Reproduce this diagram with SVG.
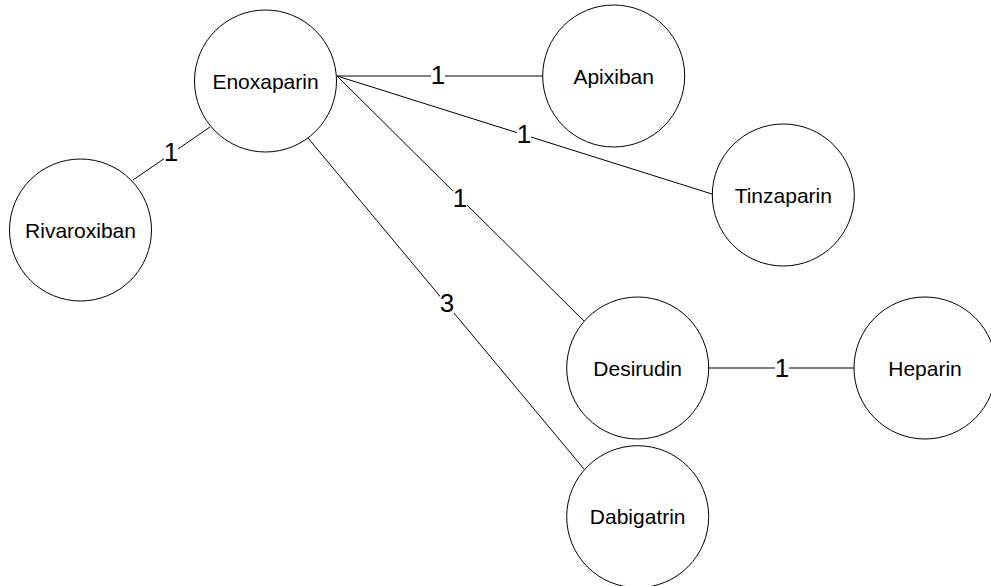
<svg xmlns="http://www.w3.org/2000/svg" width="991" height="586" viewBox="0 0 991 586">
<style>
.node circle{fill:#fff;stroke:#000;stroke-width:1}
.node text{font-family:"Liberation Sans",Arial,sans-serif;font-size:21px;fill:#000;text-anchor:middle}
.edges line{stroke:#000;stroke-width:1}
.lbl rect{fill:#fff}
.lbl text{font-family:"Liberation Sans",Arial,sans-serif;font-size:26px;fill:#000;text-anchor:middle}
</style>
<rect width="991" height="586" fill="#fff"/>
<g id="connectors" class="edges">
<line x1="210" y1="127" x2="133" y2="180"/>
<line x1="337" y1="76" x2="543" y2="76"/>
<line x1="337" y1="76" x2="712" y2="194"/>
<line x1="337" y1="76" x2="584" y2="321"/>
<line x1="308" y1="138" x2="584" y2="469"/>
<line x1="709" y1="368" x2="854" y2="368"/>
<g class="lbl">
<rect x="164" y="141" width="14" height="22"/><text x="171" y="161">1</text>
<rect x="431" y="64" width="14" height="22"/><text x="438" y="84">1</text>
<rect x="517" y="123" width="14" height="22"/><text x="524" y="142.5">1</text>
<rect x="453" y="187" width="14" height="22"/><text x="460" y="207">1</text>
<rect x="440" y="292" width="14" height="22"/><text x="447" y="312">3</text>
<rect x="775" y="357" width="14" height="22"/><text x="782" y="377">1</text>
</g>
</g>
<g id="Enoxaparin" class="node"><circle cx="265.5" cy="81" r="71"/><text x="265.5" y="88.5">Enoxaparin</text></g>
<g id="Rivaroxiban" class="node"><circle cx="80.5" cy="230" r="71"/><text x="80.5" y="237.5">Rivaroxiban</text></g>
<g id="Apixiban" class="node"><circle cx="613.7" cy="76" r="71"/><text x="613.7" y="83.5">Apixiban</text></g>
<g id="Tinzaparin" class="node"><circle cx="783.3" cy="195" r="71"/><text x="783.3" y="202.5">Tinzaparin</text></g>
<g id="Desirudin" class="node"><circle cx="637.7" cy="368" r="71"/><text x="637.7" y="375.5">Desirudin</text></g>
<g id="Heparin" class="node"><circle cx="925" cy="368" r="71"/><text x="925" y="375.5">Heparin</text></g>
<g id="Dabigatrin" class="node"><circle cx="637.7" cy="516.7" r="71"/><text x="637.7" y="524">Dabigatrin</text></g>
</svg>
